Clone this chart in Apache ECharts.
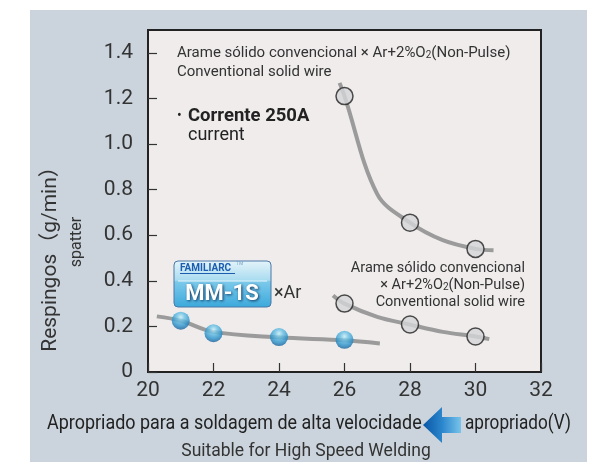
<!DOCTYPE html>
<html><head><meta charset="utf-8">
<style>html,body{margin:0;padding:0;background:#fff}#c{width:598px;height:462px}</style>
<script src="https://cdn.jsdelivr.net/npm/echarts@6/dist/echarts.min.js"></script>
</head><body><div id="c"></div>
<script>
// ---- data ----
const xTicks = [20, 22, 24, 26, 28, 30, 32];
const yTicks = [0, 0.2, 0.4, 0.6, 0.8, 1.0, 1.2, 1.4];
const convVolt = [26, 28, 30];
const convNonPulseHigh = [1.21, 0.655, 0.54];
const convNonPulseLow = [0.30, 0.208, 0.156];
const mm1sVolt = [21, 22, 24, 26];
const mm1sSpatter = [0.225, 0.17, 0.153, 0.141];
// trend curves as traced on the picture
const highCurveX = [25.85, 26, 27, 28, 29, 30, 30.55];
const highCurveY = [1.268, 1.21, 0.78, 0.655, 0.578, 0.54, 0.534];
const lowCurveX = [25.65, 26, 27, 28, 29, 30, 30.42];
const lowCurveY = [0.336, 0.30, 0.242, 0.208, 0.176, 0.156, 0.144];
const blueCurveX = [20.27, 21, 22, 24, 26, 27.08];
const blueCurveY = [0.244, 0.225, 0.176, 0.152, 0.139, 0.125];

const zip = (a, b) => a.map((v, i) => [v, b[i]]);
const FF = "Roboto, 'Noto Sans', sans-serif";

const chart = echarts.init(document.getElementById('c'), null, {renderer: 'canvas'});

const curveStyle = {color: '#9b9b9b', width: 4};
const circleItem = {color: '#d5d6d8', borderColor: '#222', borderWidth: 1.5};
const sphere = {
  type: 'radial', x: 0.5, y: 0.3, r: 0.7,
  colorStops: [
    {offset: 0, color: '#c9eef8'},
    {offset: 0.3, color: '#6cc3e6'},
    {offset: 0.7, color: '#2a93cc'},
    {offset: 1, color: '#145f9a'}
  ]
};

chart.setOption({
  animation: false,
  backgroundColor: '#ffffff',
  grid: {left: 148, top: 30, width: 393, height: 342, show: true,
         backgroundColor: '#efeceb', borderColor: '#222', borderWidth: 2},
  xAxis: {
    type: 'value', min: xTicks[0], max: xTicks[xTicks.length - 1], interval: 2,
    axisLine: {show: false},
    axisTick: {show: true, inside: true, length: 9, lineStyle: {color: '#333', width: 1.2}},
    axisLabel: {color: '#333', fontSize: 21, fontFamily: FF, margin: 8},
    splitLine: {show: false}
  },
  yAxis: {
    type: 'value', min: 0, max: 1.5, interval: 0.2,
    axisLine: {show: false},
    axisTick: {show: true, inside: true, length: 9, lineStyle: {color: '#333', width: 1.2}},
    axisLabel: {color: '#333', fontSize: 21, fontFamily: FF, margin: 15, showMaxLabel: false,
      formatter: v => (yTicks.indexOf(Math.round(v * 10) / 10) < 0 ? '' : (v === 0 ? '0' : v.toFixed(1)))},
    splitLine: {show: false}
  },
  series: [
    {type: 'line', data: zip(highCurveX, highCurveY), smooth: 0.35, showSymbol: false, symbol: 'none', lineStyle: curveStyle, z: 2},
    {type: 'line', data: zip(lowCurveX, lowCurveY), smooth: 0.35, showSymbol: false, symbol: 'none', lineStyle: curveStyle, z: 2},
    {type: 'line', data: zip(blueCurveX, blueCurveY), smooth: 0.35, showSymbol: false, symbol: 'none', lineStyle: curveStyle, z: 2},
    {type: 'scatter', data: zip(convVolt, convNonPulseHigh), symbolSize: 17, itemStyle: circleItem, z: 3},
    {type: 'scatter', data: zip(convVolt, convNonPulseLow), symbolSize: 17, itemStyle: circleItem, z: 3},
    {type: 'scatter', data: zip(mm1sVolt, mm1sSpatter), symbolSize: 18, itemStyle: {color: sphere}, z: 3}
  ],
  graphic: [
    {type: 'rect', z: -10, shape: {x: 30, y: 10, width: 557, height: 452}, style: {fill: '#cbd4dc'}},
    // y axis name
    {type: 'text', x: 51, y: 254, rotation: Math.PI / 2, z: 10,
     style: {text: 'Respingos（g/min）', font: "21px Roboto, 'Noto Sans CJK JP', sans-serif", fill: '#333', align: 'center', verticalAlign: 'middle'}},
    {type: 'text', x: 77, y: 242, rotation: Math.PI / 2, z: 10,
     style: {text: 'spatter', font: "16px Roboto, sans-serif", fill: '#333', align: 'center', verticalAlign: 'middle'}},
    // upper annotation
    {type: 'text', x: 177, y: 53, z: 10,
     style: {text: 'Arame sólido convencional × Ar+2%O{s|2}(Non-Pulse)', fontSize: 15, fontFamily: FF, fill: '#333', align: 'left', verticalAlign: 'middle',
             rich: {s: {fontSize: 10, fontFamily: FF, fill: '#333', padding: [5, 0, 0, 0]}}}},
    {type: 'text', x: 177, y: 72, z: 10,
     style: {text: 'Conventional solid wire', fontSize: 15, fontFamily: FF, fill: '#333', align: 'left', verticalAlign: 'middle'}},
    {type: 'text', x: 177, y: 116, z: 10,
     style: {text: '•', fontSize: 14, fontFamily: FF, fill: '#222', align: 'left', verticalAlign: 'middle'}},
    {type: 'text', x: 188, y: 116, z: 10,
     style: {text: 'Corrente 250A', fontSize: 18.5, fontWeight: 'bold', fontFamily: FF, fill: '#222', align: 'left', verticalAlign: 'middle'}},
    {type: 'text', x: 188, y: 135, z: 10,
     style: {text: 'current', fontSize: 18, fontFamily: FF, fill: '#222', align: 'left', verticalAlign: 'middle'}},
    // lower annotation
    {type: 'text', x: 525, y: 268, z: 10,
     style: {text: 'Arame sólido convencional', fontSize: 14.5, fontFamily: FF, fill: '#333', align: 'right', verticalAlign: 'middle'}},
    {type: 'text', x: 525, y: 285, z: 10,
     style: {text: '× Ar+2%O{s|2}(Non-Pulse)', fontSize: 14.5, fontFamily: FF, fill: '#333', align: 'right', verticalAlign: 'middle',
             rich: {s: {fontSize: 10, fontFamily: FF, fill: '#333', padding: [5, 0, 0, 0]}}}},
    {type: 'text', x: 525, y: 302, z: 10,
     style: {text: 'Conventional solid wire', fontSize: 14.5, fontFamily: FF, fill: '#333', align: 'right', verticalAlign: 'middle'}},
    // MM-1S badge
    {type: 'rect', z: 10, shape: {x: 174, y: 261, width: 97, height: 46, r: 4},
     style: {fill: new echarts.graphic.LinearGradient(0, 0, 0, 1, [
       {offset: 0, color: '#e6f4fa'}, {offset: 0.42, color: '#a9dcf0'},
       {offset: 0.45, color: '#7cc9ea'}, {offset: 1, color: '#3ba9dc'}]),
       stroke: '#4a78a8', lineWidth: 1}},
    {type: 'line', z: 11, shape: {x1: 178, y1: 281, x2: 267, y2: 281}, style: {stroke: '#e8f6fc', lineWidth: 1}},
    {type: 'text', x: 180, y: 268, z: 11,
     style: {text: 'FAMILIARC', fontSize: 10, fontWeight: 'bold', fontFamily: FF, fill: '#1d5db0', align: 'left', verticalAlign: 'middle'}},
    {type: 'line', z: 11, shape: {x1: 180, y1: 273.5, x2: 235, y2: 273.5}, style: {stroke: '#1d5db0', lineWidth: 1}},
    {type: 'text', x: 236, y: 264, z: 11,
     style: {text: 'TM', fontSize: 5, fontFamily: FF, fill: '#7aa6c8', align: 'left', verticalAlign: 'middle'}},
    {type: 'text', x: 222, y: 294, z: 11,
     style: {text: 'MM-1S', fontSize: 22, fontWeight: 'bold', fontFamily: FF, fill: '#ffffff', align: 'center', verticalAlign: 'middle',
             textShadowColor: 'rgba(10,40,80,0.9)', textShadowBlur: 3, textShadowOffsetX: 1, textShadowOffsetY: 1}},
    {type: 'text', x: 274, y: 293, z: 10,
     style: {text: '×Ar', fontSize: 18, fontFamily: FF, fill: '#333', align: 'left', verticalAlign: 'middle'}},
    // bottom texts
    {type: 'text', x: 47, y: 424, scaleX: 0.92,
     style: {text: 'Apropriado para a soldagem de alta velocidade', fontSize: 19.5, fontFamily: FF, fill: '#222', align: 'left', verticalAlign: 'middle'}},
    {type: 'polygon', z: 5,
     shape: {points: [[423, 425], [442, 407], [442, 417], [461, 417], [461, 433], [442, 433], [442, 443]]},
     style: {fill: new echarts.graphic.LinearGradient(0, 0, 1, 0, [
       {offset: 0, color: '#0a56a6'}, {offset: 0.5, color: '#2a86cc'}, {offset: 1, color: '#78c3ea'}])}},
    {type: 'text', x: 465, y: 424, scaleX: 0.88,
     style: {text: 'apropriado(V)', fontSize: 19.5, fontFamily: FF, fill: '#222', align: 'left', verticalAlign: 'middle'}},
    {type: 'text', x: 306, y: 452,
     style: {text: 'Suitable for High Speed Welding', fontSize: 17.5, fontFamily: FF, fill: '#333', align: 'center', verticalAlign: 'middle'}}
  ]
});
</script></body></html>
